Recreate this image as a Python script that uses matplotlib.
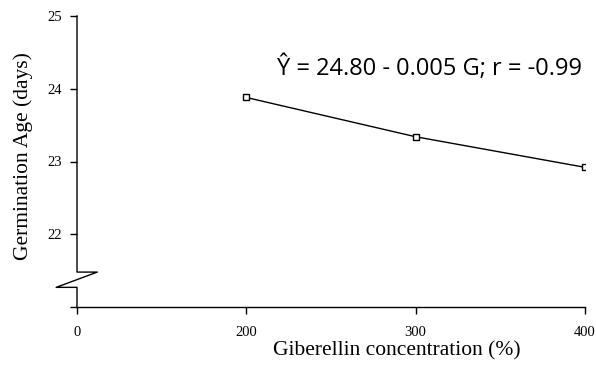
import matplotlib.pyplot as plt

# data
conc_labels = ["0", "200", "300", "400"]
conc_with_data = ["200", "300", "400"]
germ_age = [23.88, 23.34, 22.92]
y_ticks = [21, 22, 23, 24, 25]
y_tick_labels = ["", "22", "23", "24", "25"]
equation = "Ŷ = 24.80 - 0.005 G; r = -0.99"

serif = ["Liberation Serif", "DejaVu Serif"]

fig = plt.figure(figsize=(5.96, 3.76), dpi=100)
ax = fig.add_axes([77 / 596, 1 - 307 / 376, 508 / 596, 291 / 376])

xpos = [conc_labels.index(c) for c in conc_with_data]
ax.plot(xpos, germ_age, color="black", lw=1.0, marker="s", markersize=4.5,
        markerfacecolor="white", markeredgecolor="black", markeredgewidth=1.0)

ax.set_xlim(0, 3)
ax.set_ylim(21, 25)
ax.set_xticks(range(len(conc_labels)))
ax.set_xticklabels(conc_labels, fontfamily=serif, fontsize=10.5)
ax.set_yticks(y_ticks)
ax.set_yticklabels(y_tick_labels, fontfamily=serif, fontsize=10.5)
ax.tick_params(direction="out", length=5, width=1)
ax.tick_params(axis="x", pad=9)
ax.tick_params(axis="y", pad=6)

for s in ["top", "right", "left"]:
    ax.spines[s].set_visible(False)
ax.spines["bottom"].set_linewidth(1)

# y axis drawn by hand so it can carry the break mark
trans = ax.get_yaxis_transform()
ax.plot([0, 0, 0.04, -0.041, 0, 0], [25, 21.48, 21.48, 21.27, 21.27, 21],
        transform=trans, color="black", lw=1, clip_on=False)

ax.set_ylabel("Germination Age (days)", fontfamily=serif, fontsize=15.5, va="center")
ax.yaxis.set_label_coords(-0.106, 0.52)
ax.set_xlabel("Giberellin concentration (%)", fontfamily=serif, fontsize=15.5, va="center")
ax.xaxis.set_label_coords(0.63, -0.15)

ax.text(1.18, 24.19, equation, fontfamily=["Open Sans", "DejaVu Sans"], fontsize=17,
        ha="left", va="baseline")

fig.savefig("out.png", dpi=100)
